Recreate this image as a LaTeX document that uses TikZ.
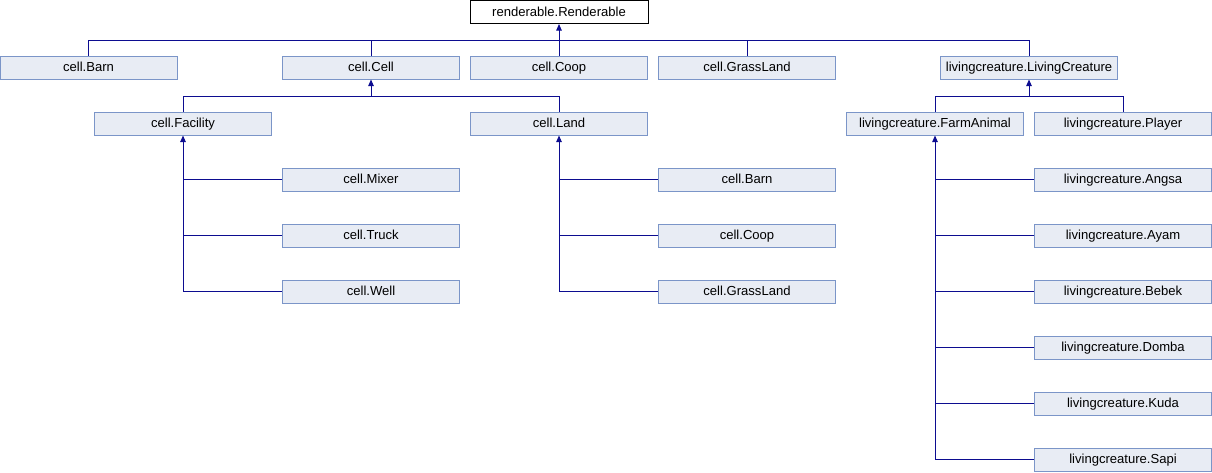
\documentclass[tikz,border=0pt]{standalone}
\usepackage{fontspec}
\setmainfont{Liberation Sans}
\usetikzlibrary{arrows.meta}
\definecolor{boxfill}{HTML}{E8ECF4}
\definecolor{boxline}{HTML}{7B95C8}
\definecolor{edgeblue}{HTML}{0C0C90}
\begin{document}
\begin{tikzpicture}
  [x=0.75pt, y=-0.75pt]
  \tikzstyle{box} = [draw=boxline, fill=boxfill, line width=0.75pt, minimum width=132.75pt, minimum height=17.25pt, inner sep=0pt, text height=7.5pt, text depth=1.4pt, font=\fontsize{9.8}{11}\selectfont];
  \tikzstyle{root_box} = [box, draw=black, fill=white, minimum width=133.5pt];
  \tikzstyle{line} = [draw=edgeblue, line width=0.75pt];
  \tikzstyle{inherit} = [line, -{Triangle[length=5pt, width=4.2pt]}];

  \useasboundingbox (0, 0) rectangle (1212, 472);

  % top level
  \node[root_box] (renderable) at (559, 12) {renderable.Renderable};

  \node[box] (barn)     at (88.5, 67.5)  {cell.Barn};
  \node[box] (cell)     at (371, 67.5)   {cell.Cell};
  \node[box] (coop)     at (559, 67.5)   {cell.Coop};
  \node[box] (grass)    at (747, 67.5)   {cell.GrassLand};
  \node[box] (living)   at (1029, 67.5)  {livingcreature.LivingCreature};

  % second level
  \node[box] (facility) at (183, 123.5)  {cell.Facility};
  \node[box] (land)     at (559, 123.5)  {cell.Land};
  \node[box] (farm)     at (935, 123.5)  {livingcreature.FarmAnimal};
  \node[box] (player)   at (1123, 123.5) {livingcreature.Player};

  % facilities
  \node[box] (mixer)    at (371, 179.5)  {cell.Mixer};
  \node[box] (truck)    at (371, 235.5)  {cell.Truck};
  \node[box] (well)     at (371, 291.5)  {cell.Well};

  % lands
  \node[box] (barn_l)   at (747, 179.5)  {cell.Barn};
  \node[box] (coop_l)   at (747, 235.5)  {cell.Coop};
  \node[box] (grass_l)  at (747, 291.5)  {cell.GrassLand};

  % animals
  \node[box] (angsa)    at (1123, 179.5) {livingcreature.Angsa};
  \node[box] (ayam)     at (1123, 235.5) {livingcreature.Ayam};
  \node[box] (bebek)    at (1123, 291.5) {livingcreature.Bebek};
  \node[box] (domba)    at (1123, 347.5) {livingcreature.Domba};
  \node[box] (kuda)     at (1123, 403.5) {livingcreature.Kuda};
  \node[box] (sapi)     at (1123, 459.5) {livingcreature.Sapi};

  % buses
  \coordinate (rbus) at (559, 40);
  \coordinate (cbus) at (371, 96);
  \coordinate (lbus) at (1029, 96);

  \draw[line] (barn.north) |- (rbus);
  \draw[line] (cell.north) -- (cell.north |- rbus);
  \draw[line] (grass.north) |- (rbus);
  \draw[line] (living.north) |- (rbus);
  \draw[inherit] (coop.north) -- (renderable.south);

  \draw[line] (facility.north) |- (cbus);
  \draw[line] (land.north) |- (cbus);
  \draw[inherit] (cbus) -- (cell.south);

  \draw[line] (farm.north) |- (lbus);
  \draw[line] (player.north) |- (lbus);
  \draw[inherit] (lbus) -- (living.south);

  \draw[line] (mixer.west) -- (mixer.west -| facility.south);
  \draw[line] (truck.west) -- (truck.west -| facility.south);
  \draw[inherit] (well.west) -| (facility.south);

  \draw[line] (barn_l.west) -- (barn_l.west -| land.south);
  \draw[line] (coop_l.west) -- (coop_l.west -| land.south);
  \draw[inherit] (grass_l.west) -| (land.south);

  \draw[line] (angsa.west) -- (angsa.west -| farm.south);
  \draw[line] (ayam.west) -- (ayam.west -| farm.south);
  \draw[line] (bebek.west) -- (bebek.west -| farm.south);
  \draw[line] (domba.west) -- (domba.west -| farm.south);
  \draw[line] (kuda.west) -- (kuda.west -| farm.south);
  \draw[inherit] (sapi.west) -| (farm.south);

\end{tikzpicture}
\end{document}
